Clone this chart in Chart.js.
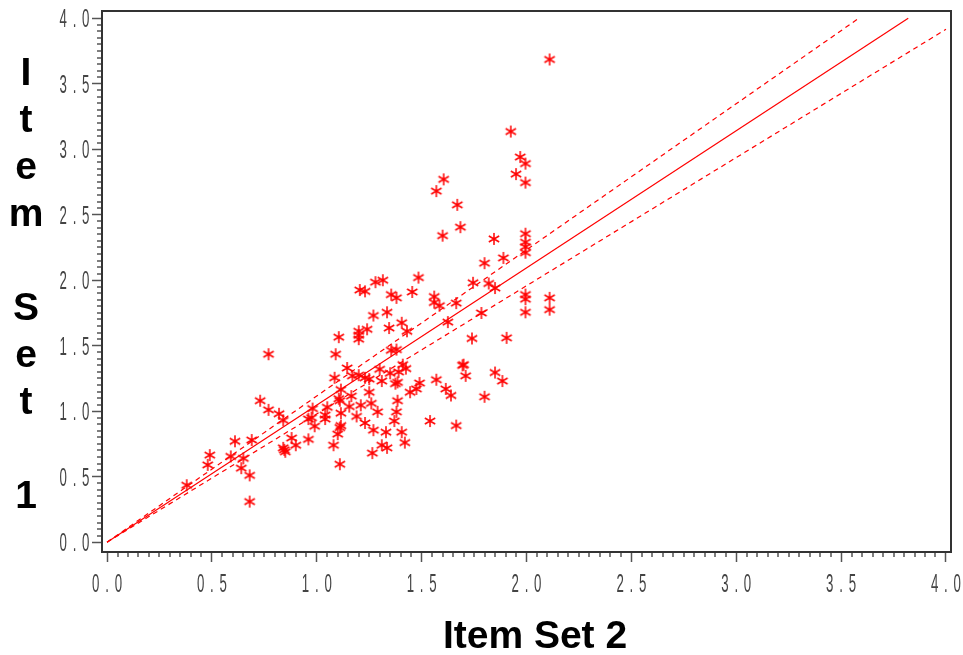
<!DOCTYPE html>
<html lang="en">
<head>
    <meta charset="UTF-8">
    <title>Item Set 1 vs Item Set 2</title>
    <script src="https://cdn.jsdelivr.net/npm/chart.js"></script>
    <style>
        html, body { margin: 0; padding: 0; background: #fff; }
        #wrap { width: 963px; height: 655px; }
    </style>
</head>
<body>
<div id="wrap"><canvas id="scatterChart" width="963" height="655"></canvas></div>

<script>
    // observed pairs (Item Set 2 on x, Item Set 1 on y)
    const set2 = [
        0.73, 0.77, 0.82, 0.84, 0.98, 0.96, 0.975, 0.99, 1.04, 1.04, 1.05, 0.61, 0.69, 0.49,
        0.48, 0.59, 0.65, 0.64, 0.68, 0.38, 0.68, 0.88, 0.96, 0.84, 0.85, 0.90, 0.845, 0.77,
        1.105, 1.20, 1.20, 1.20, 1.24, 1.43, 1.09, 1.355, 1.38, 1.145, 1.085, 1.115, 1.17, 1.20,
        1.23, 1.25, 1.30, 1.31, 1.35, 1.375, 1.385, 1.39, 1.41, 1.425, 1.25, 1.165, 1.105, 1.11,
        1.155, 1.21, 1.26, 1.29, 1.115, 1.19, 1.385, 1.38, 1.37, 1.23, 1.115, 1.11, 1.27, 1.33,
        1.405, 1.10, 1.08, 1.31, 1.335, 1.42, 1.265, 1.11, 1.54, 1.57, 1.615, 1.64, 1.49, 1.475,
        1.445, 1.665, 1.28, 1.315, 1.485, 1.205, 1.23, 1.355, 1.38, 1.455, 1.56, 1.56, 1.585, 1.665,
        1.625, 1.27, 1.335, 1.405, 1.345, 1.695, 1.995, 1.95, 1.995, 1.605, 1.57, 1.67, 1.685, 1.60,
        1.845, 1.995, 1.995, 1.995, 1.995, 1.89, 1.80, 1.745, 1.82, 1.85, 1.995, 1.995, 1.995, 2.11,
        2.11, 1.785, 1.74, 1.905, 2.11, 1.925, 1.97, 1.70, 1.71, 1.85, 1.885, 1.80
    ];
    const set1 = [
        1.08, 1.01, 0.98, 0.93, 1.02, 0.94, 0.95, 0.885, 0.97, 0.94, 1.03, 0.77, 0.78, 0.665,
        0.59, 0.655, 0.64, 0.565, 0.51, 0.435, 0.31, 0.795, 0.785, 0.72, 0.69, 0.74, 0.705, 1.435,
        1.565, 1.61, 1.58, 1.55, 1.625, 1.61, 1.435, 1.465, 1.47, 1.33, 1.255, 1.165, 1.27, 1.275,
        1.255, 1.245, 1.32, 1.23, 1.29, 1.21, 1.22, 1.30, 1.355, 1.325, 1.145, 1.115, 1.095, 1.08,
        1.035, 1.045, 1.06, 0.995, 0.985, 0.96, 1.08, 0.995, 0.925, 0.91, 0.89, 0.875, 0.855, 0.84,
        0.84, 0.825, 0.74, 0.74, 0.72, 0.76, 0.68, 0.595, 0.925, 1.24, 1.17, 1.12, 1.215, 1.17,
        1.145, 0.89, 1.985, 2.00, 2.02, 1.925, 1.915, 1.89, 1.865, 1.91, 1.875, 1.83, 1.805, 1.825,
        1.68, 1.73, 1.755, 1.675, 1.635, 1.35, 2.89, 2.81, 2.745, 2.77, 2.68, 2.575, 2.405, 2.34,
        2.315, 2.355, 2.29, 2.255, 2.21, 2.17, 2.13, 1.98, 1.975, 1.94, 1.89, 1.855, 1.755, 1.865,
        1.775, 1.75, 1.555, 1.56, 3.685, 3.135, 2.94, 1.355, 1.27, 1.295, 1.23, 1.11
    ];

    // fitted line through origin and its two limits, as (x, y) end values
    const fitX = [0, 3.82];
    const fitY = [0, 4.0];
    const upperX = [0, 3.585];
    const upperY = [0, 4.0];
    const lowerX = [0, 4.0];
    const lowerY = [0, 3.915];

    const tickValues = [0, 0.5, 1.0, 1.5, 2.0, 2.5, 3.0, 3.5, 4.0];
    const tickLabels = ['0.0', '0.5', '1.0', '1.5', '2.0', '2.5', '3.0', '3.5', '4.0'];
    const xTitle = 'Item Set 2';
    const yTitle = ['I', 't', 'e', 'm', '', 'S', 'e', 't', '', '1'];

    const RED = '#ff0000';
    const FRAME = '#333333';
    const TICK = '#555555';
    const TITLE_FONT = "bold 39px 'Liberation Sans', Arial, sans-serif";

    // SAS style six-armed asterisk
    function makeStar() {
        const c = document.createElement('canvas');
        c.width = 14; c.height = 14;
        const g = c.getContext('2d');
        g.strokeStyle = RED;
        g.lineWidth = 1.5;
        g.beginPath();
        g.moveTo(7, 1); g.lineTo(7, 13);
        g.moveTo(1.8, 4); g.lineTo(12.2, 10);
        g.moveTo(1.8, 10); g.lineTo(12.2, 4);
        g.stroke();
        return c;
    }

    function pairs(xs, ys) {
        return xs.map((v, i) => ({ x: v, y: ys[i] }));
    }

    // thin, tall, letter-spaced label like the SAS hardware font
    function drawTickLabel(ctx, text, right, cx, baseline) {
        const pitch = 11.3;
        const chars = text.split('');
        const start = right !== null ? right - 3.7 - pitch * (chars.length - 1) : cx - pitch * (chars.length - 1) / 2;
        chars.forEach((ch, i) => {
            ctx.save();
            ctx.translate(start + i * pitch, baseline);
            ctx.scale(0.52, 1);
            ctx.fillText(ch, 0, 0);
            ctx.restore();
        });
    }

    const framePlugin = {
        id: 'framePlugin',
        afterDraw(chart) {
            const { ctx, chartArea: a, scales: { x, y } } = chart;
            ctx.save();
            // minor ticks every 0.05
            ctx.strokeStyle = TICK;
            ctx.lineWidth = 1.5;
            for (let i = 1; i < 80; i++) {
                if (i % 10 === 0) continue;
                const v = i * 0.05;
                const px = Math.round(x.getPixelForValue(v));
                ctx.beginPath(); ctx.moveTo(px, a.bottom); ctx.lineTo(px, a.bottom + 5); ctx.stroke();
                const py = Math.round(y.getPixelForValue(v));
                ctx.beginPath(); ctx.moveTo(a.left, py); ctx.lineTo(a.left - 5, py); ctx.stroke();
            }
            // box around the plot
            ctx.strokeStyle = FRAME;
            ctx.lineWidth = 2;
            ctx.strokeRect(a.left, a.top, a.right - a.left, a.bottom - a.top);

            // tick labels
            ctx.fillStyle = '#444';
            ctx.font = "25.5px 'Liberation Sans', Arial, sans-serif";
            ctx.textAlign = 'center';
            ctx.textBaseline = 'alphabetic';
            tickValues.forEach((v, i) => {
                drawTickLabel(ctx, tickLabels[i], null, x.getPixelForValue(v), 592);
                drawTickLabel(ctx, tickLabels[i], 89.5, 0, y.getPixelForValue(v) + 9.2);
            });

            // axis titles
            ctx.fillStyle = '#000';
            ctx.font = TITLE_FONT;
            ctx.fillText(xTitle, 535, 648);
            yTitle.forEach((ch, i) => ctx.fillText(ch, 26, 85 + i * 47));
            ctx.restore();
        }
    };

    const ctx = document.getElementById('scatterChart').getContext('2d');
    new Chart(ctx, {
        type: 'scatter',
        data: {
            datasets: [
                {
                    data: pairs(set2, set1),
                    pointStyle: makeStar(),
                    pointRadius: 6,
                    pointHoverRadius: 6
                },
                {
                    data: pairs(fitX, fitY),
                    showLine: true,
                    borderColor: RED,
                    borderWidth: 1.2,
                    pointRadius: 0
                },
                {
                    data: pairs(upperX, upperY),
                    showLine: true,
                    borderColor: RED,
                    borderWidth: 1.2,
                    borderDash: [5, 4],
                    pointRadius: 0
                },
                {
                    data: pairs(lowerX, lowerY),
                    showLine: true,
                    borderColor: RED,
                    borderWidth: 1.2,
                    borderDash: [5, 4],
                    pointRadius: 0
                }
            ]
        },
        options: {
            responsive: false,
            animation: false,
            layout: { padding: { left: 0, top: 11, right: 12, bottom: 0 } },
            plugins: { legend: { display: false }, tooltip: { enabled: false } },
            scales: {
                x: {
                    type: 'linear',
                    min: -0.024,
                    max: 4.024,
                    afterBuildTicks: s => { s.ticks = tickValues.map(v => ({ value: v })); },
                    afterFit: s => { s.height = 103; s.paddingLeft = 0; s.paddingRight = 0; },
                    border: { display: false },
                    grid: { drawOnChartArea: false, tickLength: 10, tickColor: TICK, tickWidth: 1.5 },
                    ticks: { display: false }
                },
                y: {
                    type: 'linear',
                    min: -0.075,
                    max: 4.055,
                    afterBuildTicks: s => { s.ticks = tickValues.map(v => ({ value: v })); },
                    afterFit: s => { s.width = 102; s.paddingTop = 0; s.paddingBottom = 0; },
                    border: { display: false },
                    grid: { drawOnChartArea: false, tickLength: 10, tickColor: TICK, tickWidth: 1.5 },
                    ticks: { display: false }
                }
            }
        },
        plugins: [framePlugin]
    });
</script>
</body>
</html>
